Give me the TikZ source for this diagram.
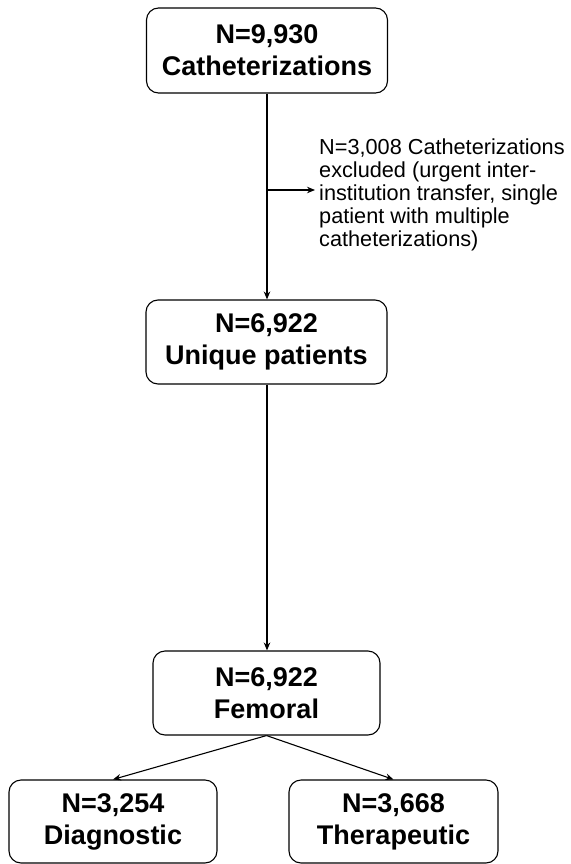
\documentclass[tikz,border=0pt]{standalone}
\usepackage{fontspec}
\setmainfont{Liberation Sans}
\usetikzlibrary{arrows.meta}
\begin{document}
\begin{tikzpicture}[x=1pt,y=-1pt,
  box/.style={draw, line width=1.1pt, rounded corners=12pt, align=center, inner sep=0pt,
    font=\fontsize{27}{32}\selectfont\bfseries},
  conn/.style={line width=1.1pt, -{Stealth[length=8pt,width=6.5pt]}},
  note/.style={align=left, inner sep=0pt, font=\fontsize{21.7}{23}\selectfont}]
\useasboundingbox (0,0) rectangle (570,864);
\node[box, minimum width=241pt, minimum height=85pt] (b1) at (267,50.5) {N=9,930\\Catheterizations};
\node[box, minimum width=241pt, minimum height=84pt] (b2) at (266.5,342) {N=6,922\\Unique patients};
\node[box, minimum width=227pt, minimum height=84pt] (b3) at (266.5,693) {N=6,922\\Femoral};
\node[box, minimum width=208pt, minimum height=83pt] (b4) at (113,821.5) {N=3,254\\Diagnostic};
\node[box, minimum width=209pt, minimum height=83pt] (b5) at (393.5,821.5) {N=3,668\\Therapeutic};
\node[note, anchor=north west] (ex) at (319,139) {N=3,008 Catheterizations\\excluded (urgent inter-\\institution transfer, single\\patient with multiple\\catheterizations)};
\coordinate (m) at (267,190);
\coordinate (mt) at (315,190);
\draw[conn] (b1.south -| m) -- (b2.north -| m);
\draw[conn] (m) -- (mt);
\draw[conn] (b2.south -| m) -- (b3.north -| m);
\draw[conn] (b3.south) -- (b4.north);
\draw[conn] (b3.south) -- (b5.north);
\end{tikzpicture}
\end{document}
